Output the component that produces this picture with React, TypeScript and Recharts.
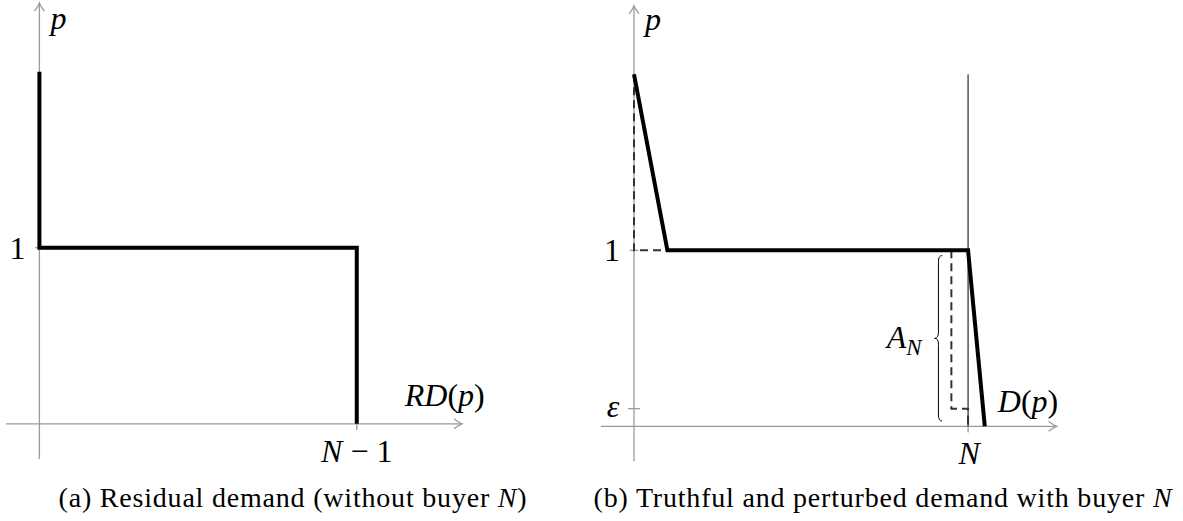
import React from 'react'
import { LineChart, Line, XAxis, YAxis, ReferenceDot, ReferenceLine, ReferenceArea } from 'recharts'

// shared coordinate system for both panels (quantity on x, price on y)
const X_DOMAIN: [number, number] = [-2, 25.3]
const Y_DOMAIN: [number, number] = [-0.2, 2.39]

const N = 20
const EPS = 0.1
const P_MAX = 2

// axis lines
const xAxisLine = [{ x: X_DOMAIN[0], y: 0 }, { x: X_DOMAIN[1], y: 0 }]
const yAxisLine = [{ x: 0, y: Y_DOMAIN[0] }, { x: 0, y: Y_DOMAIN[1] }]

// (a) residual demand without buyer N
const residualDemand = [
  { x: 0, y: P_MAX },
  { x: 0, y: 1 },
  { x: N - 1, y: 1 },
  { x: N - 1, y: 0 },
]

// (b) truthful demand with buyer N
const truthfulDemand = [
  { x: 0, y: P_MAX },
  { x: 2, y: 1 },
  { x: N, y: 1 },
  { x: N + 1, y: 0 },
]

// (b) perturbed demand, dashed pieces
const perturbedHigh = [
  { x: 0, y: P_MAX },
  { x: 0, y: 1 },
  { x: 2, y: 1 },
]
const perturbedLow = [
  { x: N - 1, y: 1 },
  { x: N - 1, y: EPS },
  { x: N, y: EPS },
  { x: N, y: 0 },
]

const AXIS = '#9a9a9a'
const MATH_FONT = '"Liberation Serif", "DejaVu Serif", serif'

const arrowRight = (p: any) => (
  <path
    d={`M ${p.cx - 8} ${p.cy - 5} Q ${p.cx - 3} ${p.cy - 1} ${p.cx} ${p.cy} Q ${p.cx - 3} ${p.cy + 1} ${p.cx - 8} ${p.cy + 5}`}
    fill="none" stroke={AXIS} strokeWidth={1.3}
  />
)
const arrowUp = (p: any) => (
  <path
    d={`M ${p.cx - 5} ${p.cy + 8} Q ${p.cx - 1} ${p.cy + 3} ${p.cx} ${p.cy} Q ${p.cx + 1} ${p.cy + 3} ${p.cx + 5} ${p.cy + 8}`}
    fill="none" stroke={AXIS} strokeWidth={1.3}
  />
)

type Anchor = 'start' | 'middle' | 'end'
const mathText = (content: React.ReactNode, dx: number, dy: number, anchor: Anchor = 'middle', italic = true) =>
  (p: any) => (
    <text
      x={p.cx + dx} y={p.cy + dy}
      textAnchor={anchor}
      fontFamily={MATH_FONT}
      fontStyle={italic ? 'italic' : 'normal'}
      fontSize={32}
      fill="#000"
    >
      {content}
    </text>
  )

// left curly brace spanning the given area
const brace = (p: any) => {
  const { x, y, width: w, height: h } = p
  const mid = y + h / 2
  const xm = x + w / 2
  const r = 6
  const d = [
    `M ${x + w} ${y}`,
    `Q ${xm} ${y} ${xm} ${y + r}`,
    `L ${xm} ${mid - r}`,
    `Q ${xm} ${mid} ${x} ${mid}`,
    `Q ${xm} ${mid} ${xm} ${mid + r}`,
    `L ${xm} ${y + h - r}`,
    `Q ${xm} ${y + h} ${x + w} ${y + h}`,
  ].join(' ')
  return <path d={d} fill="none" stroke="#000" strokeWidth={1} />
}

const axisSeries = [
  <XAxis key="xa" type="number" dataKey="x" domain={X_DOMAIN} hide allowDataOverflow />,
  <YAxis key="ya" type="number" dataKey="y" domain={Y_DOMAIN} hide allowDataOverflow />,
  <Line key="xl" data={xAxisLine} dataKey="y" stroke={AXIS} strokeWidth={1.3} dot={false} isAnimationActive={false} />,
  <Line key="yl" data={yAxisLine} dataKey="y" stroke={AXIS} strokeWidth={1.3} dot={false} isAnimationActive={false} />,
  <ReferenceDot key="xarr" x={X_DOMAIN[1]} y={0} ifOverflow="visible" shape={arrowRight} />,
  <ReferenceDot key="yarr" x={0} y={Y_DOMAIN[1]} ifOverflow="visible" shape={arrowUp} />,
]

const thick = { stroke: '#000', strokeWidth: 4, strokeLinejoin: 'miter' as const, dot: false, isAnimationActive: false }
const dashed = { stroke: '#333', strokeWidth: 2, strokeDasharray: '8 5', dot: false, isAnimationActive: false }

const tick = { stroke: AXIS, strokeWidth: 1.3, ifOverflow: 'visible' as const }

function ResidualPanel() {
  return (
    <LineChart width={540} height={521} margin={{ top: 3, left: 6, right: 78, bottom: 62 }}>
      {axisSeries}
      <ReferenceLine segment={[{ x: -0.25, y: 1 }, { x: 0.25, y: 1 }]} {...tick} />
      <ReferenceLine segment={[{ x: N - 1, y: -0.035 }, { x: N - 1, y: 0.035 }]} {...tick} />
      <Line data={residualDemand} dataKey="y" {...thick} />
      <ReferenceDot x={0} y={Y_DOMAIN[1]} ifOverflow="visible" shape={mathText('p', 19, 26)} />
      <ReferenceDot x={0} y={1} ifOverflow="visible" shape={mathText('1', -14, 11, 'end', false)} />
      <ReferenceDot x={N - 1} y={0} ifOverflow="visible" shape={mathText(<>N<tspan fontStyle="normal"> − 1</tspan></>, 0, 38)} />
      <ReferenceDot x={N - 1} y={0} ifOverflow="visible" shape={mathText(<>RD<tspan fontStyle="normal">(</tspan>p<tspan fontStyle="normal">)</tspan></>, 48, -18, 'start')} />
    </LineChart>
  )
}

function DemandPanel() {
  return (
    <LineChart width={600} height={521} margin={{ top: 5.7, left: 20.6, right: 123.4, bottom: 59.5 }}>
      {axisSeries}
      <ReferenceLine segment={[{ x: -0.25, y: 1 }, { x: 0.25, y: 1 }]} {...tick} />
      <ReferenceLine segment={[{ x: -0.36, y: EPS }, { x: 0.36, y: EPS }]} {...tick} />
      <ReferenceLine segment={[{ x: N, y: -0.035 }, { x: N, y: 0.035 }]} {...tick} />
      <ReferenceLine segment={[{ x: N, y: 0 }, { x: N, y: P_MAX }]} stroke="#000" strokeWidth={1} ifOverflow="visible" />
      <ReferenceArea x1={18.0} x2={18.45} y1={0.03} y2={0.97} ifOverflow="visible" shape={brace} />
      <Line data={perturbedHigh} dataKey="y" {...dashed} />
      <Line data={perturbedLow} dataKey="y" {...dashed} />
      <Line data={truthfulDemand} dataKey="y" {...thick} />
      <ReferenceDot x={0} y={Y_DOMAIN[1]} ifOverflow="visible" shape={mathText('p', 19, 24)} />
      <ReferenceDot x={0} y={1} ifOverflow="visible" shape={mathText('1', -14, 11, 'end', false)} />
      <ReferenceDot x={0} y={EPS} ifOverflow="visible" shape={mathText('ε', -21, 8, 'middle')} />
      <ReferenceDot x={N} y={0} ifOverflow="visible" shape={mathText('N', 1, 38)} />
      <ReferenceDot x={N + 1} y={0} ifOverflow="visible" shape={mathText(<>D<tspan fontStyle="normal">(</tspan>p<tspan fontStyle="normal">)</tspan></>, 13, -14, 'start')} />
      <ReferenceDot x={18.0} y={0.5} ifOverflow="visible" shape={mathText(<>A<tspan fontSize={23} dy={7}>N</tspan></>, -13, 10, 'end')} />
    </LineChart>
  )
}

const captionStyle: React.CSSProperties = {
  position: 'absolute',
  top: 484,
  fontFamily: MATH_FONT,
  fontSize: 28,
  letterSpacing: 0.8,
  lineHeight: 1,
  whiteSpace: 'nowrap',
  transform: 'translateX(-50%)',
  color: '#000',
}

export default function App() {
  return (
    <div style={{ position: 'absolute', left: 0, top: 0, width: 1183, height: 521, background: '#fff', overflow: 'hidden' }}>
      <div style={{ position: 'absolute', left: 0, top: 0 }}>
        <ResidualPanel />
      </div>
      <div style={{ position: 'absolute', left: 580, top: 0 }}>
        <DemandPanel />
      </div>
      <div style={{ ...captionStyle, left: 293 }}>
        (a) Residual demand (without buyer <i>N</i>)
      </div>
      <div style={{ ...captionStyle, left: 883 }}>
        (b) Truthful and perturbed demand with buyer <i>N</i>
      </div>
    </div>
  )
}
